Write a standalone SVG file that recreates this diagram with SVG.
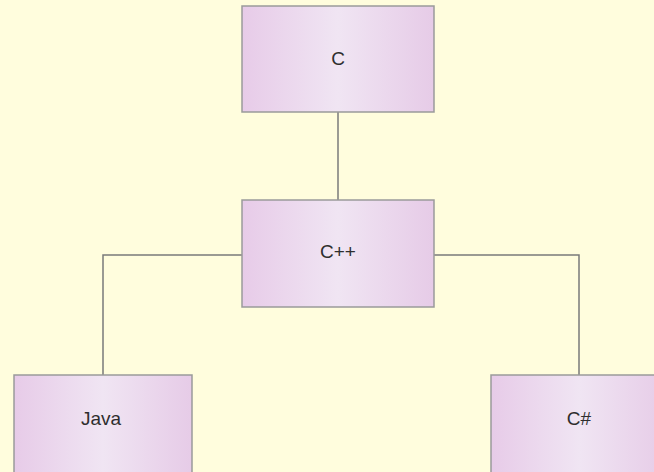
<svg xmlns="http://www.w3.org/2000/svg" width="654" height="472" viewBox="0 0 654 472">
<style>
.box{stroke:#9a9a9a;stroke-width:1.5;fill:url(#g)}
.lbl{font-family:"Liberation Sans",Arial,sans-serif;font-size:19px;fill:#2e2e2e;text-anchor:middle;dominant-baseline:central}
.con{stroke:#7a7a7a;stroke-width:1.5;fill:none}
</style>
<defs>
<linearGradient id="g" x1="0" y1="0" x2="1" y2="0">
<stop offset="0" stop-color="#e7cbe8"/>
<stop offset="0.5" stop-color="#f0e5f3"/>
<stop offset="1" stop-color="#e6cbe7"/>
</linearGradient>
</defs>
<rect width="654" height="472" fill="#fffddd"/>
<g id="connectors">
<path class="con" d="M338 112 V200"/>
<path class="con" d="M242 255 H103 V375"/>
<path class="con" d="M434 255 H579 V375"/>
</g>
<g id="node-c">
<rect class="box" x="242" y="6" width="192" height="106"/>
<text class="lbl" x="338" y="58">C</text>
</g>
<g id="node-cpp">
<rect class="box" x="242" y="200" width="192" height="107"/>
<text class="lbl" x="338" y="251">C++</text>
</g>
<g id="node-java">
<rect class="box" x="14" y="375" width="178" height="106"/>
<text class="lbl" x="101" y="418">Java</text>
</g>
<g id="node-csharp">
<rect class="box" x="491" y="375" width="178" height="106"/>
<text class="lbl" x="579" y="418">C#</text>
</g>
</svg>
